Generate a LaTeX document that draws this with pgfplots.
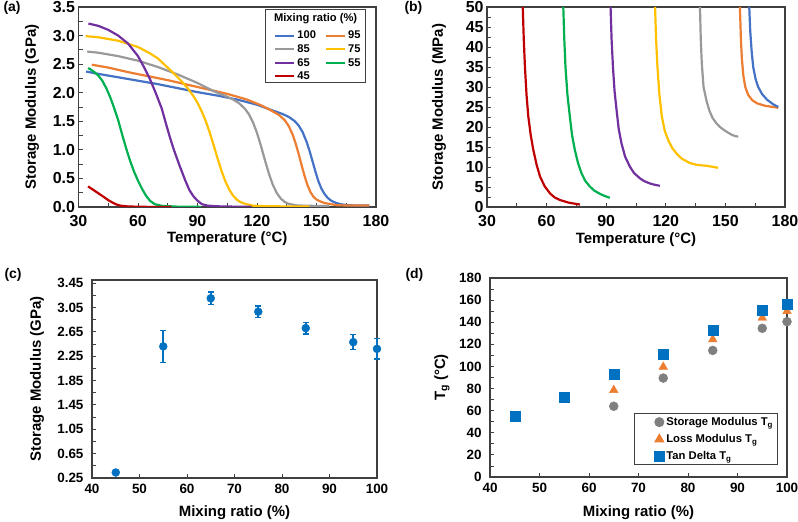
\documentclass[border=0pt]{standalone}
\usepackage{fontspec}
\setmainfont{Liberation Sans}
\usepackage{pgfplots}
\pgfplotsset{compat=1.18}
\definecolor{cblue}{HTML}{4472C4}
\definecolor{corange}{HTML}{ED7D31}
\definecolor{cgray}{HTML}{999999}
\definecolor{cyellow}{HTML}{FFC000}
\definecolor{cpurple}{HTML}{7030A0}
\definecolor{cgreen}{HTML}{00B050}
\definecolor{cred}{HTML}{C00000}
\definecolor{dblue}{HTML}{0070C0}
\definecolor{dgray}{HTML}{7F7F7F}
\pgfplotsset{
  exc/.style={scale only axis, anchor=south west,
    axis line style={black!75, line width=1.1bp},
    tick style={black!75, line width=0.8bp},
    tick align=inside, tick pos=left,
    major tick length=4bp, minor tick length=4bp,
    tick label style={font=\bfseries\fontsize{13.5}{15}\selectfont},
    label style={font=\bfseries\fontsize{15}{17}\selectfont},
    /pgf/number format/assume math mode=true},
  big ticks/.style={tick label style={font=\bfseries\fontsize{16}{18}\selectfont}},
  cur/.style={line width=2.2bp, color=#1, no marks, line join=round},
}
\begin{document}
\begin{tikzpicture}
\useasboundingbox (0,0) rectangle (798bp,522bp);
% ---------------- (a)
\begin{axis}[exc, big ticks, at={(78.5bp,315bp)}, width=297.5bp, height=200bp,
  xmin=30, xmax=180, ymin=0, ymax=3.5,
  xtick={30,60,90,120,150,180}, ytick={0,0.5,1,1.5,2,2.5,3,3.5},
  minor x tick num=1, minor y tick num=1,
  yticklabel style={/pgf/number format/.cd, fixed, fixed zerofill, precision=1},
  xticklabel shift=4.5bp,
  xlabel={Temperature (°C)}, ylabel={Storage Modulus (GPa)},
  xlabel style={at={(axis description cs:0.5,-0.16)}, anchor=center},
  ylabel style={at={(axis description cs:-0.156,0.5)}, anchor=center},
  legend columns=2,
  legend style={at={(axis description cs:0.648,0.90)}, anchor=north west, draw=none, fill=none,
    font=\bfseries\fontsize{11.2}{12}\selectfont, row sep=0.3bp,
    /tikz/every even column/.append style={column sep=7bp}},
  legend image code/.code={\draw[#1] (0bp,0bp) -- (19bp,0bp);},
  legend cell align=left]
\draw[black!75, line width=1bp] (axis description cs:0.627,0.9885) rectangle (axis description cs:0.966,0.6215);
\node[font=\bfseries\fontsize{11.2}{12}\selectfont] at (axis description cs:0.797,0.9435) {Mixing ratio (\%)};
\addlegendimage{line width=2bp, color=cblue}
\addlegendentry{100}
\addlegendimage{line width=2bp, color=corange}
\addlegendentry{95}
\addlegendimage{line width=2bp, color=cgray}
\addlegendentry{85}
\addlegendimage{line width=2bp, color=cyellow}
\addlegendentry{75}
\addlegendimage{line width=2bp, color=cpurple}
\addlegendentry{65}
\addlegendimage{line width=2bp, color=cgreen}
\addlegendentry{55}
\addlegendimage{line width=2bp, color=cred}
\addlegendentry{45}
\addplot[cur=cblue, forget plot] coordinates {(33.8,2.37)(40,2.33)(50,2.27)(60,2.21)(70,2.15)(80,2.08)(90,2.01)(100,1.95)(110,1.88)(120,1.79)(127,1.70)(130,1.664)(133,1.626)(136,1.577)(139,1.503)(141,1.426)(143,1.31)(145,1.142)(146.5,0.981)(148,0.80)(149.5,0.615)(151,0.447)(152.5,0.32)(154,0.23)(155.5,0.165)(157,0.12)(158.5,0.09)(160,0.07)(162,0.05)(165.2,0.032)(170,0.027)(176.6,0.025)};
\addplot[cur=corange, forget plot] coordinates {(36.7,2.49)(45,2.44)(55,2.36)(65,2.29)(75,2.22)(85,2.14)(95,2.06)(105,1.98)(115,1.88)(122,1.78)(126,1.71)(128,1.672)(131,1.613)(134,1.519)(136,1.417)(138,1.264)(139.5,1.111)(141,0.928)(142.5,0.731)(144,0.541)(145.5,0.378)(147,0.258)(148.5,0.178)(150,0.13)(152,0.095)(154,0.07)(157.3,0.05)(160,0.032)(165,0.026)(176.6,0.025)};
\addplot[cur=cgray, forget plot] coordinates {(34.4,2.72)(40,2.70)(50,2.64)(60,2.56)(70,2.45)(80,2.32)(90,2.17)(98,2.03)(100,2.00)(104,1.944)(108,1.88)(111,1.815)(114,1.716)(116,1.618)(118,1.48)(120,1.296)(122,1.069)(124,0.82)(126,0.583)(128,0.387)(130,0.243)(132,0.147)(134,0.088)(136,0.055)(137.5,0.045)(140,0.028)(145,0.021)(156.5,0.0175)};
\addplot[cur=cyellow, forget plot] coordinates {(33.6,2.99)(40,2.97)(50,2.91)(60,2.80)(66,2.69)(70,2.60)(74,2.47)(78,2.34)(82,2.20)(85,2.08)(88,1.938)(90,1.823)(92,1.684)(94,1.518)(96,1.32)(98,1.098)(100,0.865)(102,0.643)(104,0.453)(106,0.304)(108,0.196)(110,0.123)(112,0.08)(114.6,0.05)(118,0.023)(125,0.013)(135,0.0105)(146.4,0.0098)};
\addplot[cur=cpurple, forget plot] coordinates {(35,3.21)(40,3.17)(45,3.10)(50,3.00)(55,2.86)(60,2.64)(63,2.45)(66,2.24)(69,1.99)(72,1.72)(74,1.47)(76,1.23)(78,1.01)(81,0.72)(84,0.45)(86,0.29)(88,0.185)(90,0.11)(92.2,0.05)(95,0.024)(100,0.012)(108,0.0065)(117,0.0053)};
\addplot[cur=cgreen, forget plot] coordinates {(34.8,2.43)(36,2.41)(38,2.36)(40,2.30)(42,2.21)(44,2.08)(46,1.92)(48,1.73)(50,1.52)(52,1.27)(54,1.03)(56,0.81)(58,0.62)(60,0.46)(62,0.32)(64,0.20)(66,0.11)(68.4,0.05)(72,0.02)(80,0.006)(91.8,0.0023)};
\addplot[cur=cred, forget plot] coordinates {(34.8,0.36)(37,0.31)(40,0.24)(43,0.17)(45,0.12)(47,0.08)(49,0.045)(51,0.025)(54,0.012)(60,0.004)(66,0.002)(76.8,0.0006)};
\end{axis}
% ---------------- (b)
\begin{axis}[exc, big ticks, at={(487bp,315bp)}, width=298bp, height=200bp,
  xmin=30, xmax=180, ymin=0, ymax=50,
  xtick={30,60,90,120,150,180}, ytick={0,5,...,50},
  minor x tick num=1, minor y tick num=1,
  xticklabel shift=4.5bp,
  xlabel={Temperature (°C)}, ylabel={Storage Modulus (MPa)},
  xlabel style={at={(axis description cs:0.5,-0.165)}, anchor=center},
  ylabel style={at={(axis description cs:-0.161,0.5)}, anchor=center}]
\addplot[cur=cred] coordinates {(48.0,50)(48.5,42)(49.1,35)(49.9,28)(50.8,22.6)(52,18)(53.3,14.3)(55,10.5)(56.7,7.6)(59,5.2)(61.7,3.4)(64,2.4)(66.7,1.75)(71,1.1)(76.8,0.6)};
\addplot[cur=cgreen] coordinates {(68.4,50)(68.9,42)(69.5,35)(70.5,28)(71.7,22.6)(72.8,18)(74.2,14.3)(75.8,11)(77.6,8.4)(79.5,6.5)(81.8,5.1)(84,4.1)(86.8,3.3)(89,2.8)(91.8,2.3)};
\addplot[cur=cpurple] coordinates {(92.2,50)(92.7,42)(93.4,35)(94.2,29)(95.2,24.3)(96.3,19.5)(97.7,15.9)(99.5,12.6)(101.9,10.1)(104,8.5)(106.9,7.2)(109,6.5)(111.9,5.9)(114,5.6)(117,5.3)};
\addplot[cur=cyellow] coordinates {(114.6,50)(115.1,42)(115.8,35)(116.8,28)(118,22.6)(119.5,19)(121.4,16.5)(123.3,14.7)(125.5,13.3)(128,12.1)(132,11)(136,10.5)(140.6,10.3)(143,10.1)(146.4,9.8)};
\addplot[cur=cgray] coordinates {(137.2,50)(137.6,42)(138.1,36)(139,30)(140.5,26.5)(142,24)(143.5,22.3)(145.5,20.9)(147.5,19.9)(150,19)(153,18.1)(155,17.7)(156.5,17.6)};
\addplot[cur=corange] coordinates {(157.3,50)(157.8,42)(158.3,37)(159,33)(160,30)(161.5,28)(163.5,26.7)(166,25.9)(170,25.3)(174,25)(176.6,24.8)};
\addplot[cur=cblue] coordinates {(162,50)(162.5,44)(163.2,39)(164,35)(165.2,32)(166.5,30)(168.5,28.2)(171,26.8)(174,25.7)(176.6,25)};
\end{axis}
% ---------------- (c)
\begin{axis}[exc, at={(92bp,44bp)}, width=285bp, height=198bp, clip=false,
  xmin=40, xmax=100, ymin=0.25, ymax=3.5,
  xtick={40,50,...,100}, ytick={0.25,0.65,1.05,1.45,1.85,2.25,2.65,3.05,3.45},
  minor y tick num=1,
  yticklabel style={/pgf/number format/.cd, fixed, fixed zerofill, precision=2},
  yticklabel shift=5bp, xticklabel shift=3bp,
  xlabel={Mixing ratio (\%)}, ylabel={Storage Modulus (GPa)},
  xlabel style={at={(axis description cs:0.5,-0.177)}, anchor=center},
  ylabel style={at={(axis description cs:-0.193,0.5)}, anchor=center}]
\addplot[only marks, mark=*, mark size=4bp, color=dblue, mark options={draw=dblue, fill=dblue},
  error bars/.cd, y dir=both, y explicit, error mark=-,
  error bar style={line width=1.6bp, dblue},
  error mark options={rotate=90, line width=1.4bp, mark size=2.8bp, dblue}]
  coordinates {(45,0.34) +- (0,0.02) (55,2.41) +- (0,0.26) (65,3.20) +- (0,0.10) (75,2.98) +- (0,0.095) (85,2.71) +- (0,0.095) (95,2.48) +- (0,0.125) (100,2.37) +- (0,0.17)};
\end{axis}
% ---------------- (d)
\begin{axis}[exc, at={(490bp,45bp)}, width=297bp, height=199bp, clip=false,
  xmin=40, xmax=100, ymin=0, ymax=180,
  xtick={40,50,...,100}, ytick={0,20,...,180},
  minor y tick num=1,
  yticklabel shift=5bp, xticklabel shift=3bp,
  xlabel={Mixing ratio (\%)}, ylabel={T\textsubscript{g} (°C)},
  xlabel style={at={(axis description cs:0.5,-0.181)}, anchor=center},
  ylabel style={at={(axis description cs:-0.162,0.5)}, anchor=center},
  legend style={at={(axis description cs:0.486,0.320)}, anchor=north west, draw=black!75, line width=1bp,
    font=\bfseries\fontsize{11.3}{12}\selectfont, row sep=3.5bp, inner xsep=3bp, inner ysep=1.5bp},
  legend image code/.code={\path (0bp,0bp) (24bp,0bp); \draw[#1, draw=none] plot coordinates {(21bp,0bp)};},
  legend cell align=left]
\addplot[only marks, mark=*, mark size=4.5bp, color=dgray, mark options={draw=dgray, fill=dgray}]
  coordinates {(65,64) (75,89.5) (85,114.5) (95,134.5) (100,140.5)};
\addlegendentry{Storage Modulus T\textsubscript{g}}
\addplot[only marks, mark=triangle*, mark size=5bp, color=corange, mark options={draw=corange, fill=corange}]
  coordinates {(65,78.6) (75,99.6) (85,124.5) (95,144) (100,150)};
\addlegendentry{Loss Modulus T\textsubscript{g}}
\addplot[only marks, mark=square*, mark size=5bp, color=dblue, mark options={draw=dblue, fill=dblue}]
  coordinates {(45,54.6) (55,72) (65,92.7) (75,111) (85,133) (95,150.6) (100,156.5)};
\addlegendentry{Tan Delta T\textsubscript{g}}
\end{axis}
% panel letters
\node[anchor=west, font=\bfseries\fontsize{14}{16}\selectfont] at (0bp,514bp) {(a)};
\node[anchor=west, font=\bfseries\fontsize{14}{16}\selectfont] at (401bp,514bp) {(b)};
\node[anchor=west, font=\bfseries\fontsize{14}{16}\selectfont] at (1bp,247bp) {(c)};
\node[anchor=west, font=\bfseries\fontsize{14}{16}\selectfont] at (402bp,247bp) {(d)};
\end{tikzpicture}
\end{document}
